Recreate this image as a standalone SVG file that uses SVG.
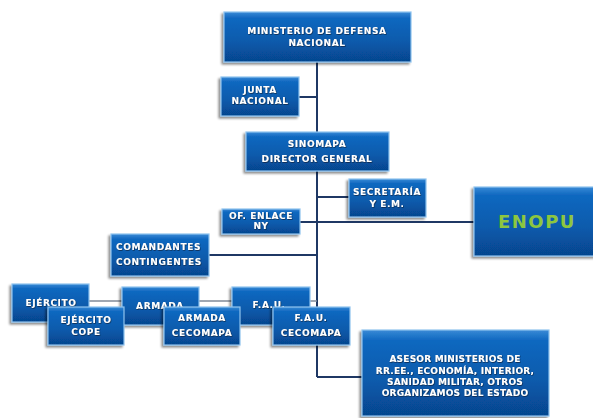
<svg xmlns="http://www.w3.org/2000/svg" width="593" height="418" viewBox="0 0 593 418">
<defs>
<linearGradient id="bg" x1="0" y1="0" x2="0" y2="1">
<stop offset="0" stop-color="#3a8ad6"/>
<stop offset="0.12" stop-color="#1068c0"/>
<stop offset="0.6" stop-color="#085aab"/>
<stop offset="1" stop-color="#06458e"/>
</linearGradient>
<filter id="sh" x="-20%" y="-20%" width="140%" height="150%">
<feDropShadow dx="-2" dy="2" stdDeviation="1.2" flood-color="#000" flood-opacity="0.45"/>
</filter>
<filter id="ts" x="-10%" y="-30%" width="120%" height="160%">
<feDropShadow dx="0.6" dy="0.8" stdDeviation="0.3" flood-color="#0a2040" flood-opacity="0.9"/>
</filter>
</defs>
<style>
.box{fill:url(#bg);stroke:#8fc3ef;stroke-width:1.2;filter:url(#sh)}
.t{font-family:"DejaVu Sans",Verdana,sans-serif;font-weight:bold;font-size:9px;fill:#fff;text-anchor:middle;letter-spacing:0.6px;filter:url(#ts)}
.a{font-size:9px;letter-spacing:0.2px}
.ln{stroke:#1f3864;stroke-width:2;fill:none}
.gl{stroke:#7f8a99;stroke-width:1.5;fill:none}
</style>
<rect width="593" height="418" fill="#fff"/>
<g id="connectors">
<path class="ln" d="M317 62V377"/>
<path class="ln" d="M299 97H317"/>
<path class="ln" d="M317 197H349"/>
<path class="ln" d="M300 222H474" stroke-width="1.6"/>
<path class="ln" d="M209 255H317" stroke-width="1.2"/>
<path class="ln" d="M317 377H362" stroke-width="1.5"/>
<path class="gl" d="M89 301H317"/>
</g>
<g id="ministerio"><rect class="box" x="224" y="12" width="187" height="50"/><text class="t" x="317" y="34">MINISTERIO DE DEFENSA</text><text class="t" x="317" y="46">NACIONAL</text></g>
<g id="junta"><rect class="box" x="221" y="77" width="78" height="39"/><text class="t" x="260" y="93">JUNTA</text><text class="t" x="260" y="104">NACIONAL</text></g>
<g id="sinomapa"><rect class="box" x="246" y="132" width="143" height="39"/><text class="t" x="317" y="147">SINOMAPA</text><text class="t" x="317" y="162">DIRECTOR GENERAL</text></g>
<g id="secretaria"><rect class="box" x="349" y="179" width="77" height="38"/><text class="t" x="387" y="195">SECRETARÍA</text><text class="t" x="387" y="207">Y E.M.</text></g>
<g id="ofenlace"><rect class="box" x="222" y="209" width="78" height="25"/><text class="t" x="261" y="219">OF. ENLACE</text><text class="t" x="261" y="229">NY</text></g>
<g id="enopu"><rect class="box" x="474" y="187" width="125" height="69"/><text x="537" y="228" font-family="DejaVu Sans,Verdana,sans-serif" font-weight="bold" font-size="18" fill="#8dc63f" text-anchor="middle" letter-spacing="1.5">ENOPU</text></g>
<g id="comandantes"><rect class="box" x="111" y="234" width="98" height="42"/><text class="t" x="116" y="250" style="text-anchor:start">COMANDANTES</text><text class="t" x="116" y="265" style="text-anchor:start">CONTINGENTES</text></g>
<g id="ejercito"><rect class="box" x="12" y="284" width="77" height="38"/><text class="t" x="51" y="306">EJÉRCITO</text></g>
<g id="armada"><rect class="box" x="122" y="287" width="77" height="38"/><text class="t" x="160" y="309">ARMADA</text></g>
<g id="fau"><rect class="box" x="232" y="287" width="78" height="38"/><text class="t" x="269" y="308">F.A.U.</text></g>
<g id="ejercitocope"><rect class="box" x="48" y="307" width="76" height="38"/><text class="t" x="86" y="323">EJÉRCITO</text><text class="t" x="86" y="335">COPE</text></g>
<g id="armadacecomapa"><rect class="box" x="164" y="307" width="76" height="38"/><text class="t" x="202" y="321">ARMADA</text><text class="t" x="202" y="336">CECOMAPA</text></g>
<g id="faucecomapa"><rect class="box" x="273" y="307" width="77" height="38"/><text class="t" x="311" y="321">F.A.U.</text><text class="t" x="311" y="336">CECOMAPA</text></g>
<g id="asesor"><rect class="box" x="362" y="330" width="187" height="86"/><text class="t a" x="455" y="362">ASESOR MINISTERIOS DE</text><text class="t a" x="455" y="374">RR.EE., ECONOMÍA, INTERIOR,</text><text class="t a" x="455" y="385">SANIDAD MILITAR,  OTROS</text><text class="t a" x="455" y="396">ORGANIZAMOS DEL ESTADO</text></g>
</svg>
